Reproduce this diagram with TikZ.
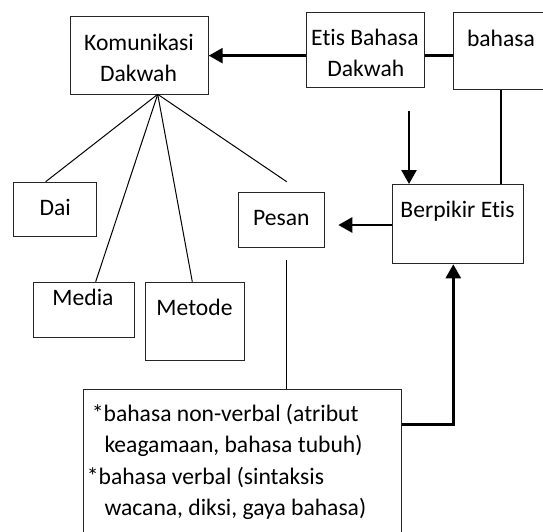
\documentclass[tikz,border=0pt]{standalone}
\usepackage{fontspec}
\setmainfont{Carlito}[Ligatures=NoCommon]
\usetikzlibrary{arrows.meta}
\begin{document}
\begin{tikzpicture}[x=1pt,y=-1pt,
  box/.style={draw=black!85, line width=1pt, inner sep=0pt, anchor=north west},
  txt/.style={inner sep=0pt, anchor=base, font=\fontsize{23.6pt}{31pt}\selectfont},
  ltxt/.style={txt, anchor=base west},
  thinline/.style={draw=black, line width=1pt},
  heavy/.style={draw=black, line width=2.6pt},
  arr/.style={heavy, -{Triangle[length=14pt,width=15pt]}}]
\useasboundingbox (0,0) rectangle (543,531);

% boxes
\node[box, minimum width=137.7pt, minimum height=78.3pt] (kom) at (70,16) {};
\node[box, minimum width=118pt, minimum height=75.6pt] (etis) at (306,11.7) {};
\node[box, minimum width=100pt, minimum height=77.6pt] (bah) at (453.3,11.7) {};
\node[box, minimum width=131.6pt, minimum height=79.3pt] (berp) at (391.7,184) {};
\node[box, minimum width=85.7pt, minimum height=55pt] (pesan) at (238.3,191.7) {};
\node[box, minimum width=82.7pt, minimum height=54.3pt] (dai) at (13.3,181.7) {};
\node[box, minimum width=101.6pt, minimum height=55pt] (media) at (32.7,281.7) {};
\node[box, minimum width=98.7pt, minimum height=78.3pt] (metode) at (145.3,281.7) {};
\node[box, minimum width=318pt, minimum height=160pt] (big) at (83.3,389.3) {};

% texts
\node[txt] (komA) at (139,50) {Komunikasi};
\node[txt] (komB) at (138.5,81) {Dakwah};
\node[txt] (etisA) at (365,45) {Etis Bahasa};
\node[txt] (etisB) at (365.8,76) {Dakwah};
\node[txt] (bahT) at (501,46.7) {bahasa};
\node[txt] (berpT) at (457.5,217.3) {Berpikir Etis};
\node[txt] (pesT) at (281.3,225) {Pesan};
\node[txt] (daiT) at (55.3,215) {Dai};
\node[txt] (medT) at (83,305) {Media};
\node[txt] (metT) at (194.5,315) {Metode};
\node[ltxt] (b1) at (91.7,421.7) {*bahasa non-verbal (atribut};
\node[ltxt] (b2) at (104.3,452.7) {keagamaan, bahasa tubuh)};
\node[ltxt] (b3) at (86.7,484) {*bahasa verbal (sintaksis};
\node[ltxt] (b4) at (104.3,515) {wacana, diksi, gaya bahasa)};

% helper coordinates
\coordinate (vx) at (501,0);
\coordinate (dstart) at (409,111);
\coordinate (ptip) at (338.3,225);
\coordinate (ux) at (453.3,424.3);
\coordinate (apex) at (157.7,94.3);
\coordinate (daitop) at (45.7,181.7);
\coordinate (medtop) at (95.7,281.7);
\coordinate (mettop) at (192.3,281.7);
\coordinate (pesend) at (286.7,181.7);
\coordinate (vstart) at (286.7,260);

% heavy connectors
\draw[arr] (kom.east -| etis.west) -- (kom.east);
\draw[heavy] (kom.east -| etis.east) -- (kom.east -| bah.west);
\draw[heavy] (bah.south -| vx) -- (berp.north -| vx);
\draw[arr] (dstart) -- (dstart |- berp.north);
\draw[arr] (berp.west |- ptip) -- (ptip);
\draw[arr] (big.east |- ux) -| (berp.south -| ux);

% thin connectors
\draw[thinline] (apex) -- (daitop);
\draw[thinline] (apex) -- (medtop);
\draw[thinline] (apex) -- (mettop);
\draw[thinline] (apex) -- (pesend);
\draw[thinline] (vstart) -- (vstart |- big.north);
\end{tikzpicture}
\end{document}
